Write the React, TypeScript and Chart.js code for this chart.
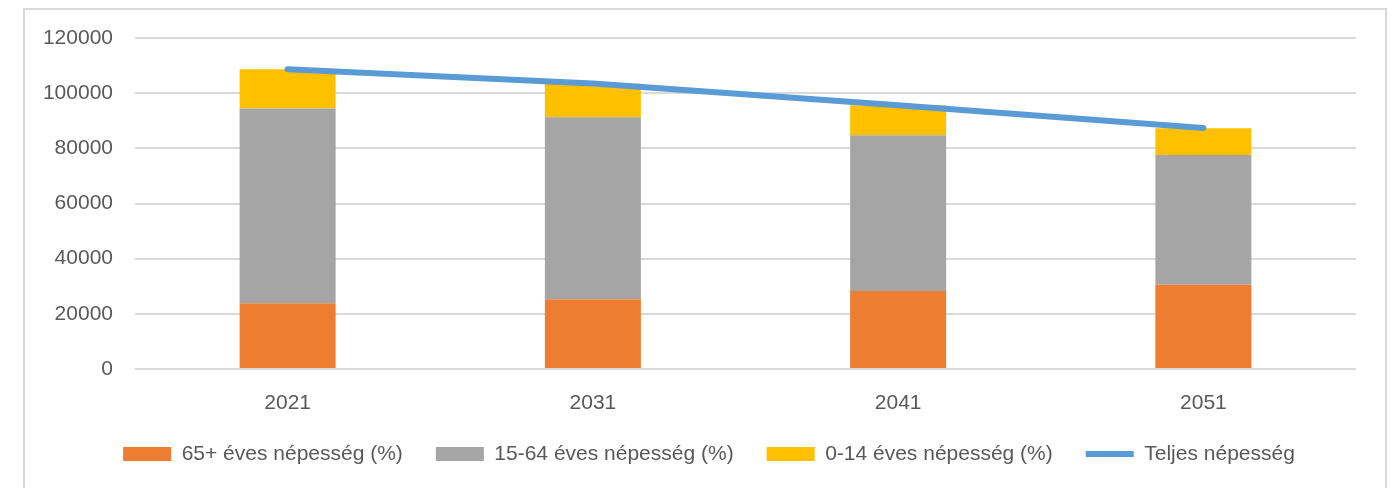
import React, { useEffect, useRef } from "react";
import { Chart, registerables } from "chart.js";

Chart.register(...registerables);

const years = ["2021", "2031", "2041", "2051"];
const age65plus = [23800, 25250, 28250, 30500];
const age15to64 = [70600, 66000, 56500, 47100];
const age0to14 = [14300, 12200, 10850, 9700];
const totalPop = [108700, 103500, 95600, 87400];
const seriesNames = [
  "65+ éves népesség (%)",
  "15-64 éves népesség (%)",
  "0-14 éves népesség (%)",
  "Teljes népesség",
];
const yMin = 0;
const yMax = 120000;
const yStep = 20000;

const FONT = "'Liberation Sans', Arial, sans-serif";
const TEXT = "#595959";

const framePlugin = {
  id: "frame",
  beforeDraw(chart: any) {
    const ctx = chart.ctx;
    ctx.save();
    ctx.fillStyle = "#ffffff";
    ctx.fillRect(0, 0, chart.width, chart.height);
    ctx.strokeStyle = "#d9d9d9";
    ctx.lineWidth = 2;
    ctx.strokeRect(24, 9, 1362, 520);
    ctx.restore();
  },
};

const legendPlacePlugin = {
  id: "legendPlace",
  afterLayout(chart: any) {
    const lg = chart.legend;
    if (!lg) return;
    lg.left += 11;
    lg.right += 11;
    const dy = 410.5 - lg.top;
    lg.top += dy;
    lg.bottom += dy;
  },
};

export default function App() {
  const ref = useRef<HTMLCanvasElement | null>(null);

  useEffect(() => {
    if (!ref.current) return;
    const chart = new Chart(ref.current, {
      type: "bar",
      data: {
        labels: years,
        datasets: [
          {
            type: "bar",
            label: seriesNames[0],
            data: age65plus,
            backgroundColor: "#ED7D31",
            borderWidth: 0,
            pointStyle: "rect",
            order: 1,
          } as any,
          {
            type: "bar",
            label: seriesNames[1],
            data: age15to64,
            backgroundColor: "#A5A5A5",
            borderWidth: 0,
            pointStyle: "rect",
            order: 1,
          },
          {
            type: "bar",
            label: seriesNames[2],
            data: age0to14,
            backgroundColor: "#FFC000",
            borderWidth: 0,
            pointStyle: "rect",
            order: 1,
          },
          {
            type: "line",
            label: seriesNames[3],
            data: totalPop,
            borderColor: "#5B9BD5",
            backgroundColor: "#5B9BD5",
            borderWidth: 6,
            borderCapStyle: "round",
            borderJoinStyle: "round",
            pointRadius: 0,
            pointHoverRadius: 0,
            pointStyle: "line",
            tension: 0,
            fill: false,
            order: 0,
          },
        ],
      },
      options: {
        animation: false,
        responsive: true,
        maintainAspectRatio: false,
        layout: { padding: { left: 40, right: 43, top: 38, bottom: 9 } },
        datasets: {
          bar: { barPercentage: 0.3145, categoryPercentage: 1 },
        },
        plugins: {
          tooltip: { enabled: false },
          legend: {
            position: "bottom",
            labels: {
              usePointStyle: true,
              pointStyleWidth: 48,
              boxHeight: 14,
              padding: 33,
              color: TEXT,
              font: { family: FONT, size: 21 },
              sort: (a: any, b: any) => a.datasetIndex - b.datasetIndex,
            },
          },
        },
        scales: {
          x: {
            stacked: true,
            grid: { display: false },
            border: { display: false },
            ticks: {
              color: TEXT,
              font: { family: FONT, size: 21 },
              padding: 14,
              maxRotation: 0,
            },
            afterFit: (scale: any) => {
              scale.height = 46;
            },
          },
          y: {
            stacked: true,
            min: yMin,
            max: yMax,
            grid: { color: "#d9d9d9", lineWidth: 2, drawTicks: false },
            border: { display: false },
            ticks: {
              stepSize: yStep,
              color: TEXT,
              font: { family: FONT, size: 21 },
              padding: 22,
              callback: (v: any) => String(v),
            },
            afterFit: (scale: any) => {
              scale.width = 95;
            },
          },
        },
      },
      plugins: [framePlugin, legendPlacePlugin],
    });
    return () => chart.destroy();
  }, []);

  return (
    <div style={{ position: "fixed", left: 0, top: 0, width: 1399, height: 488 }}>
      <canvas ref={ref} style={{ display: "block" }} />
    </div>
  );
}
